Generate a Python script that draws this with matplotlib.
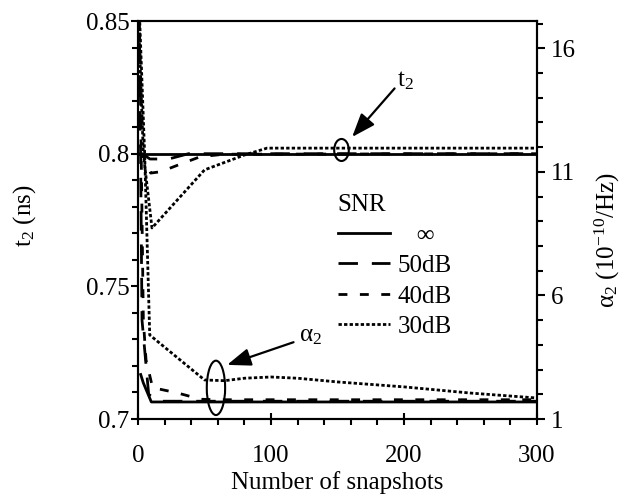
import matplotlib
matplotlib.use("Agg")
import matplotlib.pyplot as plt
from matplotlib.patches import Ellipse
from matplotlib.ticker import MultipleLocator, FixedLocator, FormatStrFormatter

plt.rcParams["font.family"] = ["Liberation Serif", "DejaVu Serif"]
plt.rcParams["mathtext.fontset"] = "custom"
plt.rcParams["mathtext.rm"] = "Liberation Serif"
plt.rcParams["mathtext.it"] = "Liberation Serif"
plt.rcParams["font.size"] = 18

# t2 estimates (ns), left axis
t_inf_x = [1, 300]
t_inf = [0.8, 0.8]
t_50_x = [1, 3, 9, 23, 38, 300]
t_50 = [0.8, 0.8, 0.798, 0.798, 0.8, 0.8]
t_40_x = [1, 4.5, 9.5, 17, 30, 47, 65, 300]
t_40 = [0.8, 0.7985, 0.7927, 0.7932, 0.7957, 0.7989, 0.7998, 0.8]
t_30_x = [1, 4, 10.5, 50, 80, 97, 300]
t_30 = [0.842, 0.8, 0.772, 0.7939, 0.7995, 0.8021, 0.8021]

# alpha2 estimates (1e-10/Hz), right axis
a_inf_x = [2, 4, 10, 300]
a_inf = [2.8, 2.46, 1.69, 1.69]
a_50_x = [1, 3, 8, 15, 300]
a_50 = [17.5, 5.0, 2.0, 1.72, 1.72]
a_40_x = [1, 4, 6, 11, 17, 30, 47, 60, 300]
a_40 = [17.5, 5.0, 3.4, 2.26, 2.2, 2.05, 1.8, 1.78, 1.78]
a_30_x = [1, 5, 8.8, 50, 65, 80, 100, 120, 150, 200, 250, 300]
a_30 = [17.5, 11.7, 4.4, 2.58, 2.55, 2.65, 2.7, 2.65, 2.5, 2.3, 2.05, 1.85]

alpha_ticks = [1, 6, 11, 16]

labels = ["   \u221e", "50dB", "40dB", "30dB"]
styles = ["-", (0, (7, 5)), (0, (3.2, 4.5)), (0, (1.2, 0.8))]
lw = 2.0

fig = plt.figure(figsize=(6.34, 4.95), dpi=100)
ax = fig.add_axes([0.2177, 0.1535, 0.6293, 0.804])
ax2 = ax.twinx()

for xs, ys, ls, lab in zip([t_inf_x, t_50_x, t_40_x, t_30_x], [t_inf, t_50, t_40, t_30], styles, labels):
    ax.plot(xs, ys, color="k", ls=ls, lw=lw, label=lab)
for xs, ys, ls in zip([a_inf_x, a_50_x, a_40_x, a_30_x], [a_inf, a_50, a_40, a_30], styles):
    ax2.plot(xs, ys, color="k", ls=ls, lw=lw)

ax.set_xlim(0, 300)
ax.set_ylim(0.7, 0.85)
ax2.set_ylim(1, 17.1)

ax.xaxis.set_major_locator(MultipleLocator(100))
ax.xaxis.set_minor_locator(MultipleLocator(20))
ax.yaxis.set_major_locator(MultipleLocator(0.05))
ax.yaxis.set_minor_locator(MultipleLocator(0.01))
ax.yaxis.set_major_formatter(FormatStrFormatter("%g"))
ax2.yaxis.set_major_locator(FixedLocator(alpha_ticks))
ax2.yaxis.set_minor_locator(MultipleLocator(1))

ax.tick_params(axis="y", which="major", direction="out", length=5, width=1.5, pad=1, labelsize=18)
ax.tick_params(axis="x", which="major", direction="inout", length=9, width=1.5, pad=14, labelsize=18)
ax.tick_params(axis="both", which="minor", direction="out", length=4, width=1.5)
ax2.tick_params(axis="y", which="major", direction="out", length=6, width=1.5, pad=4, labelsize=18)
ax2.tick_params(axis="y", which="minor", direction="out", length=4, width=1.5)
for a in (ax, ax2):
    for s in a.spines.values():
        s.set_linewidth(1.5)

ax.set_xlabel("Number of snapshots", fontsize=18, labelpad=3)
ax.set_ylabel("t$_2$ (ns)", fontsize=18)
ax2.set_ylabel("\u03b1$_2$ (10$^{-10}$/Hz)", fontsize=18)
ax.yaxis.set_label_coords(-0.25, 0.51)
ax2.yaxis.set_label_coords(1.14, 0.45)

leg = ax.legend(title="SNR", loc="upper left", bbox_to_anchor=(0.5, 0.565), frameon=False,
                borderpad=0, borderaxespad=0, handlelength=2.1, handletextpad=0.3,
                labelspacing=0.32, fontsize=18, title_fontsize=18, alignment="left")

# t2 annotation
ax.add_patch(Ellipse((153, 0.8014), 11, 0.0083, fill=False, lw=1.5, color="k"))
ax.annotate("t$_2$", xy=(161, 0.8063), xytext=(195, 0.8275), fontsize=18,
            ha="left", va="center",
            arrowprops=dict(arrowstyle="-|>,head_length=0.8,head_width=0.3", color="k", lw=1.6,
                            shrinkA=0, shrinkB=0, relpos=(0, 0.3)))

# alpha2 annotation
ax2.add_patch(Ellipse((58.6, 2.26), 13.8, 2.2, fill=False, lw=1.5, color="k"))
ax2.annotate("\u03b1$_2$", xy=(67, 3.19), xytext=(121, 4.36), fontsize=18,
             ha="left", va="center",
             arrowprops=dict(arrowstyle="-|>,head_length=0.8,head_width=0.3", color="k", lw=1.6,
                             shrinkA=2, shrinkB=0, relpos=(0, 0.3)))

fig.savefig("out.png", dpi=100)
